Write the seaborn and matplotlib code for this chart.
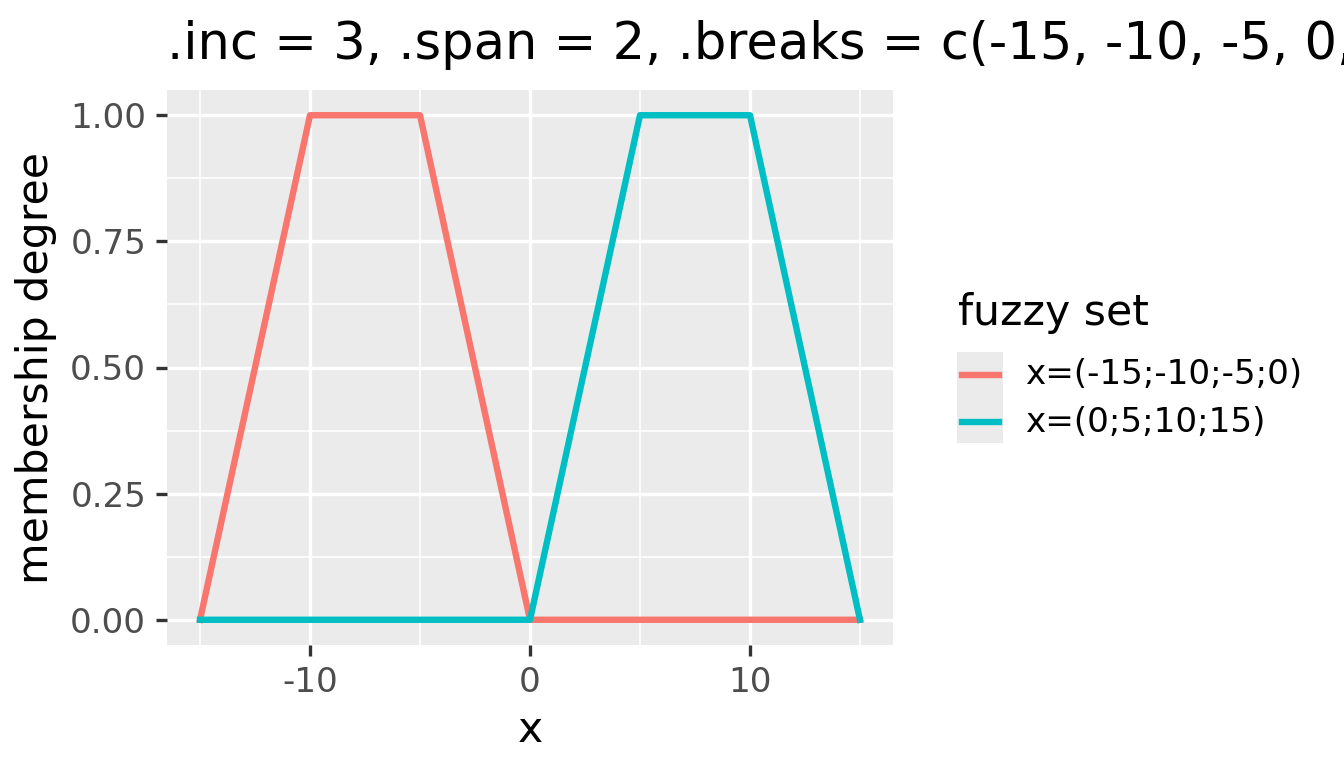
import numpy as np
import pandas as pd
import matplotlib
matplotlib.use("Agg")
import matplotlib.pyplot as plt
import seaborn as sns
from matplotlib.patches import Rectangle

# data: two trapezoidal fuzzy sets
set_names = ["x=(-15;-10;-5;0)", "x=(0;5;10;15)"]
x_a = [-15, -10, -5, 0, 15]
y_a = [0, 1, 1, 0, 0]
x_b = [-15, 0, 5, 10, 15]
y_b = [0, 0, 1, 1, 0]
colors = ["#F8766D", "#00BFC4"]

df = pd.concat([
    pd.DataFrame({"x": x_a, "y": y_a, "set": set_names[0]}),
    pd.DataFrame({"x": x_b, "y": y_b, "set": set_names[1]}),
])

W, H = 1344, 768
fig = plt.figure(figsize=(7, 4), dpi=192)
ax = fig.add_axes([167 / W, 1 - 645 / H, (893 - 167) / W, (645 - 90) / H])
ax.set_facecolor("#EBEBEB")

sns.lineplot(data=df, x="x", y="y", hue="set", palette=colors, sort=False,
             estimator=None, linewidth=2.4, ax=ax, legend=False, zorder=3)

ax.set_xlim(-16.5, 16.5)
ax.set_ylim(-0.05, 1.05)
ax.set_xticks([-10, 0, 10])
ax.set_xticklabels(["-10", "0", "10"])
ax.set_xticks([-15, -5, 5, 15], minor=True)
ax.set_yticks([0, 0.25, 0.5, 0.75, 1.0])
ax.set_yticklabels(["0.00", "0.25", "0.50", "0.75", "1.00"])
ax.set_yticks([0.125, 0.375, 0.625, 0.875], minor=True)
ax.grid(which="major", color="white", linewidth=1.25, zorder=1)
ax.grid(which="minor", color="white", linewidth=0.63, zorder=1)
ax.set_axisbelow(True)
for s in ax.spines.values():
    s.set_visible(False)
ax.tick_params(which="major", length=4.3, width=1.25, color="#333333",
               labelsize=12.8, labelcolor="#4D4D4D", pad=3.5)
ax.tick_params(which="minor", length=0)

ax.set_xlabel("x", fontsize=16, labelpad=4)
ax.set_ylabel("membership degree", fontsize=16, labelpad=5)
fig.text(167 / W, 1 - 45 / H, ".inc = 3, .span = 2, .breaks = c(-15, -10, -5, 0, 5, 10, 15)",
         fontsize=19.2, ha="left", va="center")

# legend
fig.text(958 / W, 1 - 313 / H, "fuzzy set", fontsize=16, ha="left", va="center")
fig.patches.append(Rectangle((957 / W, 1 - 443 / H), 46 / W, 91 / H,
                             transform=fig.transFigure, facecolor="#EBEBEB",
                             edgecolor="none"))
for name, col, yy in zip(set_names, colors, [375, 422]):
    fig.add_artist(plt.Line2D([962 / W, 999 / W], [1 - yy / H, 1 - yy / H],
                              transform=fig.transFigure, color=col, linewidth=2.4))
    fig.text(1025 / W, 1 - yy / H, name, fontsize=12.8, ha="left", va="center")

fig.savefig("out.png", dpi=192)
